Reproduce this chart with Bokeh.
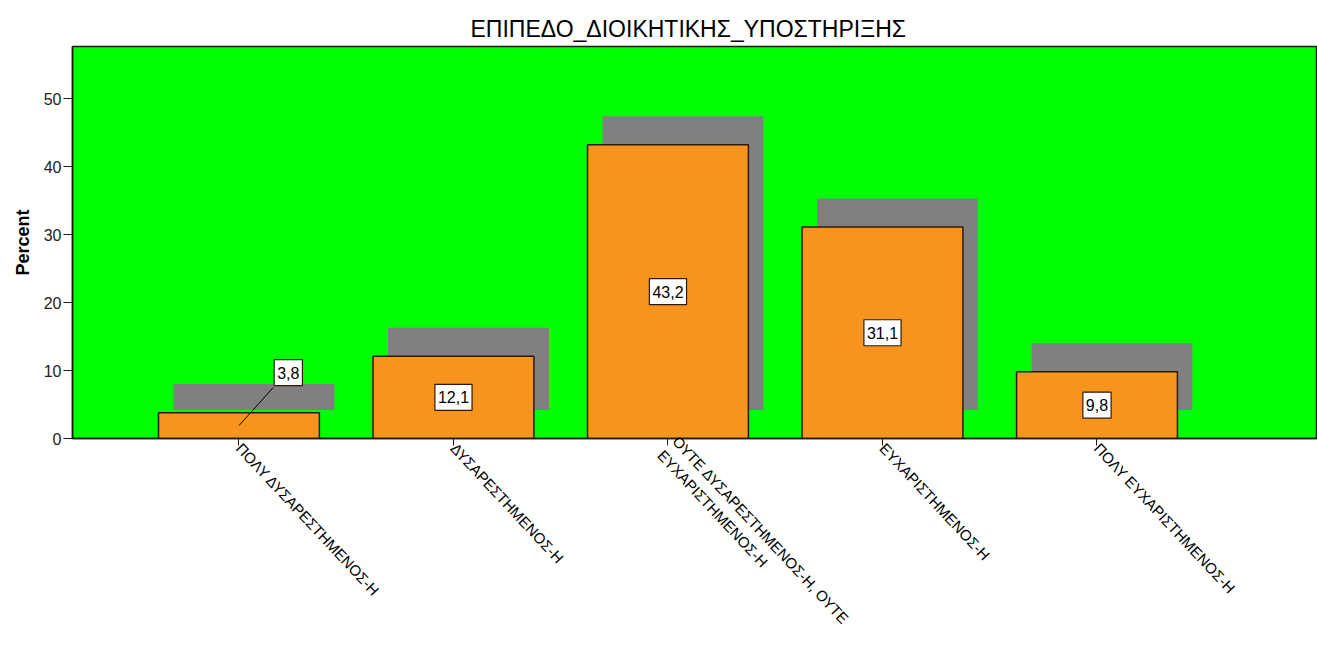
import math
from bokeh.plotting import figure
from bokeh.models import Range1d, FixedTicker, ColumnDataSource
from bokeh.transform import dodge
from bokeh.core.properties import value
from bokeh.embed import file_html
from bokeh.resources import INLINE

# ---- data ----
categories = [
    "ΠΟΛΥ ΔΥΣΑΡΕΣΤΗΜΕΝΟΣ-Η",
    "ΔΥΣΑΡΕΣΤΗΜΕΝΟΣ-Η",
    "ΟΥΤΕ ΔΥΣΑΡΕΣΤΗΜΕΝΟΣ-Η, ΟΥΤΕ\nΕΥΧΑΡΙΣΤΗΜΕΝΟΣ-Η",
    "ΕΥΧΑΡΙΣΤΗΜΕΝΟΣ-Η",
    "ΠΟΛΥ ΕΥΧΑΡΙΣΤΗΜΕΝΟΣ-Η",
]
percent = [3.8, 12.1, 43.2, 31.1, 9.8]
value_labels = ["3,8", "12,1", "43,2", "31,1", "9,8"]
y_ticks = [0, 10, 20, 30, 40, 50]

# ---- style constants ----
FONT = "Liberation Sans"
BAR_W = 0.75
SHADOW_DX = 0.07
SHADOW_DY = 4.2
SMALL = 5.0          # bars below this get an outside label with a leader line
OUT_DX = 0.23
OUT_Y = 9.7

xs = list(range(len(categories)))
shadow_bottom = [SHADOW_DY] * len(percent)
shadow_top = [v + SHADOW_DY for v in percent]
mid = [v / 2 for v in percent]
lab_x = [x + (OUT_DX if v < SMALL else 0) for x, v in zip(xs, percent)]
lab_y = [OUT_Y if v < SMALL else v / 2 for v in percent]

src = ColumnDataSource(dict(x=xs, top=percent, stop=shadow_top, sbot=shadow_bottom,
                            mid=mid, lx=lab_x, ly=lab_y, lab=value_labels))

small_idx = [i for i, v in enumerate(percent) if v < SMALL]
lead = ColumnDataSource(dict(
    x0=[xs[i] for i in small_idx],
    y0=[mid[i] for i in small_idx],
    x1=[lab_x[i] - 0.07 for i in small_idx],
    y1=[lab_y[i] - 2.2 for i in small_idx],
))

p = figure(
    width=1317, height=657,
    x_range=Range1d(-0.776, 5.028), y_range=Range1d(0, 57.65),
    output_backend="svg", toolbar_location=None,
    min_border_left=72, min_border_right=0, min_border_top=46, min_border_bottom=219,
    title="ΕΠΙΠΕΔΟ_ΔΙΟΙΚΗΤΙΚΗΣ_ΥΠΟΣΤΗΡΙΞΗΣ",
)
p.background_fill_color = "#00FF00"
p.border_fill_color = "white"
p.outline_line_color = "#1a1a1a"
p.outline_line_width = 1.5
p.grid.visible = False

p.title.align = "left"
p.title.offset = 398
p.title.text_font = FONT
p.title.text_font_size = "23px"
p.title.text_font_style = "normal"
p.title.text_color = "black"

# shadow
p.vbar(x=dodge("x", SHADOW_DX), width=BAR_W, top="stop", bottom="sbot", source=src,
       fill_color="#808080", line_color=None)
# bars
p.vbar(x="x", width=BAR_W, top="top", bottom=0, source=src,
       fill_color="#F7941D", line_color="#2b1a0a", line_width=1.5)
# leader line
p.segment(x0="x0", y0="y0", x1="x1", y1="y1", source=lead, line_color="black", line_width=1)
# value labels
p.text(x="lx", y="ly", text="lab", source=src, text_align="center", text_baseline="middle",
       text_font=value(FONT), text_font_size="16px", text_color="black",
       background_fill_color="white", border_line_color="#2b1a0a", border_line_width=1.2,
       padding=dict(left=3, right=3, top=7, bottom=7))

# axes
p.yaxis.ticker = FixedTicker(ticks=y_ticks)
p.yaxis.axis_label = "Percent"
p.yaxis.axis_label_text_font = FONT
p.yaxis.axis_label_text_font_style = "bold"
p.yaxis.axis_label_text_font_size = "18px"
p.yaxis.axis_label_text_color = "black"
p.yaxis.axis_label_standoff = 8
p.yaxis.major_label_text_font = FONT
p.yaxis.major_label_text_font_size = "16px"
p.yaxis.major_label_text_color = "#222222"
p.yaxis.major_label_standoff = 2
p.yaxis.minor_tick_line_color = None
p.yaxis.major_tick_in = 0
p.yaxis.major_tick_out = 9

p.xaxis.ticker = FixedTicker(ticks=xs)
p.xaxis.major_label_overrides = {i: c for i, c in enumerate(categories)}
p.xaxis.major_label_orientation = -0.82
p.xaxis.major_label_text_font = FONT
p.xaxis.major_label_text_font_size = "15px"
p.xaxis.major_label_text_color = "black"
p.xaxis.major_label_standoff = 0
p.xaxis.minor_tick_line_color = None
p.xaxis.major_tick_in = 0
p.xaxis.major_tick_out = 7

for ax in (p.xaxis, p.yaxis):
    ax.axis_line_color = "#1a1a1a"
    ax.axis_line_width = 1.5
    ax.major_tick_line_color = "#1a1a1a"

open("out.html", "w").write(file_html(p, INLINE))
